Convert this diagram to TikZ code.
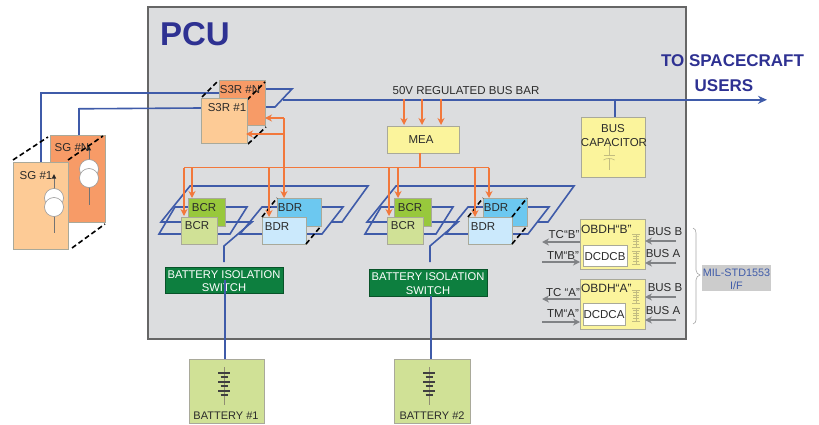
\documentclass[tikz,border=0pt]{standalone}
\usepackage{fontspec}
\setmainfont{Liberation Sans}
\usetikzlibrary{arrows.meta,calc}
\definecolor{wire}{HTML}{3F5BA9}
\definecolor{navy}{HTML}{2E3192}
\definecolor{pcugray}{HTML}{DCDDDF}
\definecolor{edge}{HTML}{A9A99A}
\definecolor{feed}{HTML}{F2783C}
\definecolor{peach}{HTML}{FDCB96}
\definecolor{orangebox}{HTML}{F79B67}
\definecolor{yellowbox}{HTML}{FBF49C}
\definecolor{gbright}{HTML}{98C83C}
\definecolor{gpale}{HTML}{D0E196}
\definecolor{bbright}{HTML}{6CC8F0}
\definecolor{bpale}{HTML}{CBE9FC}
\definecolor{switchg}{HTML}{0D7F3F}
\definecolor{greyarrow}{HTML}{808285}
\definecolor{tan}{HTML}{C2BC80}
\definecolor{txt}{HTML}{2B2B2B}
\tikzset{
  x=1pt,y=-1pt,
  every node/.style={font=\fontsize{11.5}{13}\selectfont,text=txt,inner sep=0pt,outer sep=0pt,yshift=-0.8pt},
  box/.style={draw=edge,line width=0.8pt,anchor=north west,yshift=0.8pt},
  bluewire/.style={draw=wire,line width=1.6pt,line join=miter},
  feedline/.style={draw=feed,line width=1.2pt},
  feedarrow/.style={feedline,-{Stealth[length=7pt,width=7pt]}},
  greyarr/.style={draw=greyarrow,line width=1.2pt,-{Stealth[length=7pt,width=7pt]}},
  dashy/.style={draw=black,line width=1.6pt,dash pattern=on 5pt off 3pt},
  sym/.style={draw=tan,line width=0.7pt},
}
\newcommand{\Rect}[6]{\node[box,fill=#2,minimum width=#5pt-#3pt,minimum height=#6pt-#4pt] (#1) at (#3,#4) {};}
\newcommand{\xfmr}[2]{%
  \draw[sym] (#1-4,#2) -- (#1+4,#2);
  \draw[sym] (#1-4,#2+13) -- (#1+4,#2+13);
  \foreach \k in {2.5,5,7.5,10}{\draw[sym] (#1-3,#2+\k) -- (#1+3,#2+\k);}
  \draw[sym] (#1,#2) -- (#1,#2+13);
}
\newcommand{\battsym}[2]{%
  \draw[draw=gray!80!olive,line width=0.8pt] (#1,#2) -- (#1,#2+38);
  \foreach \k in {6,15,24}{%
    \draw[draw=black!75,line width=1.2pt] (#1-6,#2+\k) -- (#1+6,#2+\k);
    \draw[draw=black!75,line width=1.2pt] (#1-3.5,#2+\k+4) -- (#1+3.5,#2+\k+4);}
}
\newcommand{\srcsym}[5]{% x, y top, y bottom, circle y1, y2
  \draw[draw=black!55,line width=0.7pt] (#1,#2) -- (#1,#3);
  \fill[black!85] (#1,#2-4) -- (#1+2.2,#2+0.5) -- (#1-2.2,#2+0.5) -- cycle;
  \draw[draw=black!40,fill=white,line width=0.6pt] (#1,#4) circle[radius=9.5];
  \draw[draw=black!40,fill=white,line width=0.6pt] (#1,#5) circle[radius=9.5];
}
\newcommand{\batgroup}[2]{% #1 x-offset, #2 name suffix
  \begin{scope}[xshift=#1pt]
    \draw[bluewire] (225,207) -- (247,207) -- (230,234) -- (217,234);
    \draw[bluewire] (188,207) -- (175,207) -- (159,234) -- (181,234);
    \draw[bluewire] (188,222) -- (161,222) -- (190,186) -- (368,186) -- (342,222) -- (331,222);
    \draw[bluewire] (306,234) -- (322,234) -- (343,207) -- (321,207);
    \draw[bluewire] (262,234) -- (240,234) -- (262,207) -- (277,207);
    \draw[bluewire] (225,222) -- (252,222) -- (224,246) -- (224,262);
    \Rect{bcrb#2}{gbright}{188}{198}{225}{226}
    \Rect{bdrb#2}{bbright}{277}{198}{321}{226}
    \Rect{bcrf#2}{gpale}{181}{217}{217}{244}
    \Rect{bdrf#2}{bpale}{262}{217}{306}{244}
    \node at (204,207) {BCR};
    \node at (197,225) {BCR};
    \node at (290,207) {BDR};
    \node at (277,226) {BDR};
    \draw[dashy] (bdrf#2.north west) -- (bdrb#2.north west);
    \draw[dashy] (bdrf#2.south east) -- (bdrb#2.south east);
  \end{scope}
}
\begin{document}
\begin{tikzpicture}
\useasboundingbox (0,0) rectangle (819,425);
% PCU panel
\node[anchor=north west,fill=pcugray,draw=black!60,line width=1.5pt,minimum width=538pt,minimum height=332pt,yshift=0.8pt] (pcu) at (148,7) {};
\node[font=\fontsize{33}{36}\selectfont\bfseries,text=navy,anchor=west] (pcutitle) at (160,33) {PCU};
% wires between generators and S3R
\coordinate (w1a) at (41,162);
\coordinate (w1b) at (41,92);
\coordinate (w1c) at (265,92);
\coordinate (w2a) at (79,135);
\coordinate (w2b) at (79,108);
\coordinate (busA) at (283,99);
\coordinate (busEnd) at (767,99);
\draw[bluewire] (w1a) -- (w1b) -- (w1c);
\draw[bluewire] (w2a) -- (w2b) -- (201,108);
\draw[bluewire] (265,89) -- (292,89) -- (275,107) -- (247,107);
\draw[bluewire,-{Stealth[length=9pt,width=8pt]}] (busA) -- (busEnd);
% solar generators
\draw[dashy] (13,160) -- (48,137);
\Rect{sgn}{orangebox}{50}{135}{105}{222}
\srcsym{89}{150}{205}{169}{178}
\node at (72,147) {SG \#N};
\draw[dashy] (68,160) -- (103,136);
\draw[dashy] (72,248) -- (105,224);
\Rect{sgo}{peach}{13}{162}{68}{249}
\srcsym{54}{178}{233}{198}{207}
\node at (36,175) {SG \#1};
% S3R
\draw[dashy] (202,97) -- (218,81);
\Rect{srn}{orangebox}{219}{80}{265}{125}
\node at (240,89) {S3R \#N};
\draw[dashy] (247,100) -- (265,82);
\draw[dashy] (248,144) -- (266,127);
\Rect{sro}{peach}{201}{98}{247}{143}
\node at (227,107) {S3R \#1};
% 50 V label
\node (buslabel) at (466,90) {50V REGULATED BUS BAR};
\node at (732.5,60) [font=\fontsize{17}{19}\selectfont\bfseries,text=navy] (tosc) {TO SPACECRAFT};
\node at (724,85) [font=\fontsize{17}{19}\selectfont\bfseries,text=navy] (users) {USERS};
% MEA
\Rect{mea}{yellowbox}{387}{126}{459}{153}
\node at (421,139) {MEA};
\foreach \xx in {404,422,441}{\draw[feedarrow] (\xx,99) -- (\xx,125);}
% battery groups
\batgroup{0}{a}
\batgroup{206}{b}
\draw[dashy] (bdrfb.north east) -- (bdrbb.north east);
% feed lines
\coordinate (fj) at (420,167.5);
\draw[feedline] (mea.south -| fj) -- (fj);
\draw[feedline] (184,167.5) -- (489,167.5);
\foreach \xx/\yy in {184/216,192/198,269/217,389/216,398/198,475/217,489/198}{\draw[feedarrow] (\xx,167.5) -- (\xx,\yy);}
\draw[feedarrow] (284,118) -- (284,198);
\draw[feedarrow] (284,118) -- (265,118);
\draw[feedarrow] (284,134) -- (246,134);
% switches
\node[box,fill=switchg,draw=black!35!switchg,minimum width=118pt,minimum height=26pt] (swa) at (165,267) {};
\node[text=white,align=center,font=\fontsize{11.2}{13.5}\selectfont] at (224,280.5) {BATTERY ISOLATION\\SWITCH};
\node[box,fill=switchg,draw=black!35!switchg,minimum width=118pt,minimum height=27pt] (swb) at (369,269) {};
\node[text=white,align=center,font=\fontsize{11.2}{13.5}\selectfont] at (428,283) {BATTERY ISOLATION\\SWITCH};
% batteries
\Rect{bat1}{gpale}{189}{359}{264}{423}
\Rect{bat2}{gpale}{394}{359}{470}{423}
\battsym{224}{367}
\battsym{429}{367}
\node[font=\fontsize{11}{12}\selectfont] at (226,415) {BATTERY \#1};
\node[font=\fontsize{11}{12}\selectfont] at (432,415) {BATTERY \#2};
\draw[bluewire] (225,280) -- (bat1.north -| 225,0);
\draw[bluewire] (431,296) -- (bat2.north -| 431,0);
% bus capacitor
\Rect{cap}{yellowbox}{581}{117}{645}{177}
\draw[bluewire,line width=1.8pt] (615,99) -- (cap.north -| 615,0);
\draw[sym] (609,145) -- (609,155) (603.5,155) -- (614.5,155) (609,158) -- (609,170);
\draw[sym] (603.5,160) .. controls (606,158) and (612,158) .. (614.5,160);
\node at (613,128) {BUS};
\node at (614,142) {CAPACITOR};
% OBDH units
\Rect{ob}{yellowbox}{580}{219}{645}{269}
\Rect{oa}{yellowbox}{580}{279}{645}{329}
\node[box,fill=white,draw=edge,minimum width=44pt,minimum height=21pt] (dcb) at (583,245) {};
\node[box,fill=white,draw=edge,minimum width=42pt,minimum height=22pt] (dca) at (583,303) {};
\node at (605,256) {DCDCB};
\node at (604,314) {DCDCA};
\node[font=\fontsize{12}{14}\selectfont,anchor=west] at (581,229) {OBDH“B”};
\node[font=\fontsize{12}{14}\selectfont,anchor=west] at (581,288) {OBDH“A”};
\xfmr{636}{234}
\xfmr{636}{251}
\xfmr{636}{290}
\xfmr{636}{308}
\draw[greyarr] (ob.west |- 0,242) -- (542,242);
\draw[greyarr] (542,262) -- (ob.west |- 0,262);
\draw[greyarr] (oa.west |- 0,299) -- (542,299);
\draw[greyarr] (542,322) -- (oa.west |- 0,322);
\draw[greyarr] (676,241) -- (ob.east |- 0,241);
\draw[greyarr] (676,263) -- (ob.east |- 0,263);
\draw[greyarr] (676,297) -- (oa.east |- 0,297);
\draw[greyarr] (676,320) -- (oa.east |- 0,320);
\node at (564,234) {TC“B”};
\node at (563,255) {TM“B”};
\node at (563,292) {TC “A”};
\node at (563,313) {TM“A”};
\node at (665,231) {BUS B};
\node at (663,253) {BUS A};
\node at (665,287) {BUS B};
\node at (663,310) {BUS A};
% brace and MIL-STD label
\draw[draw=black!35,line width=0.6pt] (693,228) .. controls (695,229) and (696,230) .. (696,233) -- (696,270) .. controls (696,273) and (698,274) .. (700,275) .. controls (698,276) and (696,277) .. (696,280) -- (696,320) .. controls (696,322) and (695,323) .. (693,324);
\node[box,fill=black!20,draw=none,minimum width=69pt,minimum height=26pt] (mil) at (702,265) {};
\node[text=wire,align=center,font=\fontsize{10.8}{13}\selectfont] at (736.5,278) {MIL-STD1553\\I/F};
\end{tikzpicture}
\end{document}
